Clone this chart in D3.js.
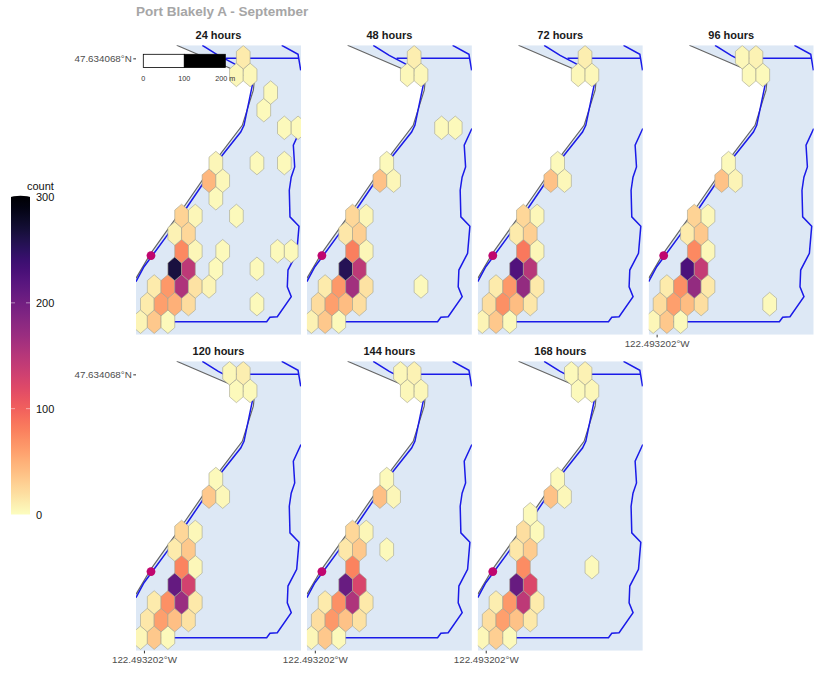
<!DOCTYPE html>
<html>
<head>
<meta charset="utf-8">
<script src="https://cdn.jsdelivr.net/npm/d3@7"></script>
<style>
  html, body { margin: 0; padding: 0; background: #fff; }
  svg { display: block; }
  text { font-family: "Liberation Sans", Arial, sans-serif; }
</style>
</head>
<body>
<svg id="chart" width="817" height="677"></svg>
<script>
// hex bins are [column, row, count], columns step in half hexagon widths
var panelLabels = ["24 hours", "48 hours", "72 hours", "96 hours", "120 hours", "144 hours", "168 hours"];

var hexes24 = [
  [0,0,6],[2,0,35],[4,0,3],
  [1,1,12],[3,1,60],[5,1,50],[7,1,22],[17,1,3],
  [2,2,12],[4,2,65],[6,2,155],[8,2,18],[10,2,6],
  [5,3,265],[7,3,145],[11,3,3],[17,3,3],
  [6,4,75],[8,4,5],[12,4,3],[20,4,3],[22,4,3],
  [5,5,8],[7,5,25],
  [6,6,28],[8,6,5],[14,6,3],
  [11,7,3],
  [10,8,45],[12,8,4],
  [11,9,5],[17,9,3],[21,9,3],
  [21,11,3],[23,11,3],
  [18,12,3],[19,13,3],
  [14,14,4],[16,14,4],[15,15,12]
];
var hexes48 = [
  [0,0,8],[2,0,35],[4,0,3],
  [1,1,22],[3,1,60],[5,1,42],[7,1,20],
  [2,2,12],[4,2,65],[6,2,165],[8,2,18],[16,2,3],
  [5,3,255],[7,3,145],
  [6,4,80],[8,4,5],
  [5,5,15],[7,5,30],
  [6,6,25],[8,6,5],
  [10,8,38],[12,8,5],[11,9,3],
  [19,11,3],[21,11,3],
  [14,14,4],[16,14,4],[15,15,10]
];
var hexes72 = [
  [0,0,6],[2,0,35],[4,0,3],
  [1,1,20],[3,1,70],[5,1,42],[7,1,15],
  [2,2,12],[4,2,65],[6,2,175],[8,2,14],
  [5,3,225],[7,3,150],
  [6,4,85],[8,4,5],
  [5,5,12],[7,5,30],
  [6,6,25],[8,6,4],
  [10,8,38],[12,8,4],[11,9,3],
  [14,14,4],[16,14,4],[15,15,10]
];
var hexes96 = [
  [0,0,5],[2,0,35],[4,0,3],
  [1,1,22],[3,1,60],[5,1,42],[7,1,20],[17,1,3],
  [2,2,12],[4,2,70],[6,2,175],[8,2,14],
  [5,3,228],[7,3,140],
  [6,4,75],[8,4,4],
  [5,5,12],[7,5,35],
  [6,6,28],[8,6,4],
  [10,8,38],[12,8,6],[11,9,3],
  [14,14,3],[16,14,3],[13,15,4],[15,15,8]
];
var hexes120 = [
  [0,0,5],[2,0,35],[4,0,3],
  [1,1,15],[3,1,60],[5,1,40],[7,1,18],
  [2,2,12],[4,2,70],[6,2,170],[8,2,14],
  [5,3,210],[7,3,130],
  [6,4,78],[8,4,4],
  [5,5,12],[7,5,35],
  [6,6,25],[8,6,4],
  [10,8,35],[12,8,4],[11,9,3],
  [14,14,3],[16,14,3],[13,15,4],[15,15,10]
];
var hexes144 = [
  [0,0,5],[2,0,35],[4,0,3],
  [1,1,20],[3,1,65],[5,1,38],[7,1,18],
  [2,2,12],[4,2,70],[6,2,155],[8,2,14],
  [5,3,207],[7,3,125],
  [6,4,78],
  [5,5,15],[7,5,35],[11,5,3],
  [6,6,25],[8,6,5],
  [10,8,40],[12,8,5],[11,9,3],
  [14,14,4],[16,14,4],[13,15,4],[15,15,8]
];
var hexes168 = [
  [0,0,4],[2,0,30],[4,0,3],
  [1,1,20],[3,1,60],[5,1,38],[7,1,14],
  [2,2,10],[4,2,65],[6,2,145],[8,2,12],
  [5,3,208],[7,3,122],
  [6,4,72],[16,4,3],
  [5,5,15],[7,5,32],
  [6,6,20],[8,6,3],
  [7,7,3],
  [10,8,38],[12,8,4],[11,9,3],
  [14,14,3],[16,14,4],[13,15,3],[15,15,8]
];
var panelHexes = [hexes24, hexes48, hexes72, hexes96, hexes120, hexes144, hexes168];

// map lines, in the same column/row units as the hex bins
var grayShore = [
  [5.28,15.68],[12.92,14.41],[15.99,13.79],[16.57,13.51],[16.47,13.13],[14.86,11.14],
  [11.71,9.54],[6.35,6.52],[3.91,5.2],[1.49,3.88],[-0.66,2.46]
];
var blueWest = [
  [9.02,15.68],[11.36,15.11],[13.65,14.64],[15.4,14.15],[16.32,13.41],[15.11,11.14],
  [14.63,10.76],[11.94,9.44],[6.83,6.52],[3.91,4.91],[1.97,3.88],[0.51,3.12],[-0.66,2.27]
];
var blueTop = [[12.44,14.94],[23.14,14.94]];
var blueCorner = [[20.61,15.68],[23,15.17],[23.39,14.26]];
var blueEast = [
  [23.43,10.96],[22.31,10.01],[22.51,8.78],[22.0,8.2],[21.72,7.46],[21.82,5.95],[23.14,5.42],
  [22.8,3.88],[21.53,2.93],[21.43,1.98],[22.01,1.42],[19.97,0.28],[18.9,0.25],[18.42,0],[2,0]
];
var stationPoint = [1.53, 3.75];

var latLabel = "47.634068°N", lonLabel = "122.493202°W";
var latTick = 14.94, lonTick = 0.5;
var legendTicks = [0, 100, 200, 300];
var scaleBarBreaks = [0, 100, 200];

var svg = d3.select("#chart");

var panelX = [136, 306.9, 477.8, 648.7],
  panelY = [45.3, 361.3],
  panelW = 165,
  panelH = 289.4;

var x = d3.scaleLinear().domain([-0.657, 23.43]).range([0, panelW]);
var y = d3.scaleLinear().domain([-0.737, 15.68]).range([panelH, 0]);
var color = function (v) { return d3.interpolateMagma(1 - v / 300); };
var line = d3.line().x(function (d) { return x(d[0]); }).y(function (d) { return y(d[1]); });

svg.append("text")
  .attr("x", 136).attr("y", 16)
  .attr("font-size", 13.5).attr("font-weight", "bold").attr("fill", "#a6a6a6")
  .text("Port Blakely A - September");

function hexVertices(d) {
  return [
    [d[0], d[1] + 2 / 3], [d[0] + 1, d[1] + 1 / 3], [d[0] + 1, d[1] - 1 / 3],
    [d[0], d[1] - 2 / 3], [d[0] - 1, d[1] - 1 / 3], [d[0] - 1, d[1] + 1 / 3]
  ];
}

panelLabels.forEach(function (label, i) {
  var col = i % 4, row = i < 4 ? 0 : 1;
  var g = svg.append("g")
    .attr("transform", "translate(" + panelX[col] + "," + panelY[row] + ")");

  svg.append("clipPath").attr("id", "clip" + i)
    .append("rect").attr("width", panelW).attr("height", panelH);

  g.append("text")
    .attr("x", panelW / 2).attr("y", -6)
    .attr("text-anchor", "middle")
    .attr("font-size", 11).attr("font-weight", "bold").attr("fill", "#1a1a1a")
    .text(label);

  var map = g.append("g").attr("clip-path", "url(#clip" + i + ")");

  // sea is the area east of the gray shore
  var sea = grayShore.concat([
    [x.domain()[0], y.domain()[0]], [x.domain()[1], y.domain()[0]], [x.domain()[1], y.domain()[1]]
  ]);
  map.append("path").attr("d", line(sea) + "Z").attr("fill", "#dde8f5");

  map.append("path").attr("d", line(grayShore))
    .attr("fill", "none").attr("stroke", "#666").attr("stroke-width", 1.2);

  [blueWest, blueTop, blueCorner, blueEast].forEach(function (l) {
    map.append("path").attr("d", line(l))
      .attr("fill", "none").attr("stroke", "#1a1ae8").attr("stroke-width", 1.5);
  });

  map.selectAll("path.hex")
    .data(panelHexes[i])
    .enter()
    .append("path")
    .attr("class", "hex")
    .attr("d", function (d) { return line(hexVertices(d)) + "Z"; })
    .attr("fill", function (d) { return color(d[2]); })
    .attr("stroke", "#a3a38f")
    .attr("stroke-width", 0.6);

  map.append("circle")
    .attr("cx", x(stationPoint[0])).attr("cy", y(stationPoint[1]))
    .attr("r", 4.4).attr("fill", "#c0066e");

  // facet_wrap style axes, only on the outer panels
  if (col === 0) {
    var left = g.append("g")
      .call(d3.axisLeft(y).tickValues([latTick]).tickSize(2.7).tickPadding(1.5)
        .tickFormat(function () { return latLabel; }));
    left.select(".domain").remove();
    left.selectAll("line").attr("stroke", "#333");
    left.selectAll("text").attr("font-size", 9.8).attr("fill", "#4d4d4d")
      .style("font-family", "'Liberation Sans', Arial, sans-serif");
  }
  if (row === 1 || col === 3) {
    var bottom = g.append("g")
      .attr("transform", "translate(0," + panelH + ")")
      .call(d3.axisBottom(x).tickValues([lonTick]).tickSize(2.7).tickPadding(2.5)
        .tickFormat(function () { return lonLabel; }));
    bottom.select(".domain").remove();
    bottom.selectAll("line").attr("stroke", "#333");
    bottom.selectAll("text").attr("font-size", 9.8).attr("fill", "#4d4d4d")
      .style("font-family", "'Liberation Sans', Arial, sans-serif");
  }

  // scale bar sits on the first panel only
  if (i === 0) {
    var bar = d3.scaleLinear().domain([0, 200]).range([7.3, 89.3]);
    var barG = g.append("g").attr("transform", "translate(0,9)");
    barG.selectAll("rect")
      .data([0, 1])
      .enter()
      .append("rect")
      .attr("x", function (d) { return bar(scaleBarBreaks[d]); })
      .attr("width", function (d) { return bar(scaleBarBreaks[d + 1]) - bar(scaleBarBreaks[d]); })
      .attr("height", 13.2)
      .attr("fill", function (d) { return d === 0 ? "#fff" : "#000"; })
      .attr("stroke", "#000")
      .attr("stroke-width", 0.8);
    barG.selectAll("text")
      .data(scaleBarBreaks)
      .enter()
      .append("text")
      .attr("x", function (d) { return bar(d); })
      .attr("y", 27)
      .attr("text-anchor", "middle")
      .attr("font-size", 7.2)
      .attr("fill", "#333")
      .text(function (d) { return d === 200 ? "200 m" : d; });
  }
});

// colour bar
var legendY = d3.scaleLinear().domain([0, 300]).range([514.5, 197]);
var defs = svg.append("defs");
var grad = defs.append("linearGradient").attr("id", "magmaBar")
  .attr("x1", 0).attr("x2", 0).attr("y1", 1).attr("y2", 0);
d3.range(0, 301, 10).forEach(function (v) {
  grad.append("stop").attr("offset", v / 300).attr("stop-color", color(v));
});

svg.append("ellipse")
  .attr("cx", 20.5).attr("cy", legendY(300)).attr("rx", 9.5).attr("ry", 1.2).attr("fill", "#000004");
svg.append("rect")
  .attr("x", 11).attr("y", legendY(300))
  .attr("width", 19).attr("height", legendY(0) - legendY(300))
  .attr("fill", "url(#magmaBar)");

svg.selectAll("line.legend-tick")
  .data([100, 200, 100, 200])
  .enter()
  .append("line")
  .attr("class", "legend-tick")
  .attr("x1", function (d, i) { return i < 2 ? 11 : 26; })
  .attr("x2", function (d, i) { return i < 2 ? 15 : 30; })
  .attr("y1", function (d) { return legendY(d); })
  .attr("y2", function (d) { return legendY(d); })
  .attr("stroke", "#fff").attr("stroke-opacity", 0.8).attr("stroke-width", 0.6);

svg.selectAll("text.legend-label")
  .data(legendTicks)
  .enter()
  .append("text")
  .attr("class", "legend-label")
  .attr("x", 36)
  .attr("y", function (d) { return legendY(d); })
  .attr("dy", "0.4em")
  .attr("font-size", 11)
  .attr("fill", "#111")
  .text(function (d) { return d; });

svg.append("text")
  .attr("x", 27).attr("y", 190)
  .attr("font-size", 11).attr("fill", "#111")
  .text("count");
</script>
</body>
</html>
